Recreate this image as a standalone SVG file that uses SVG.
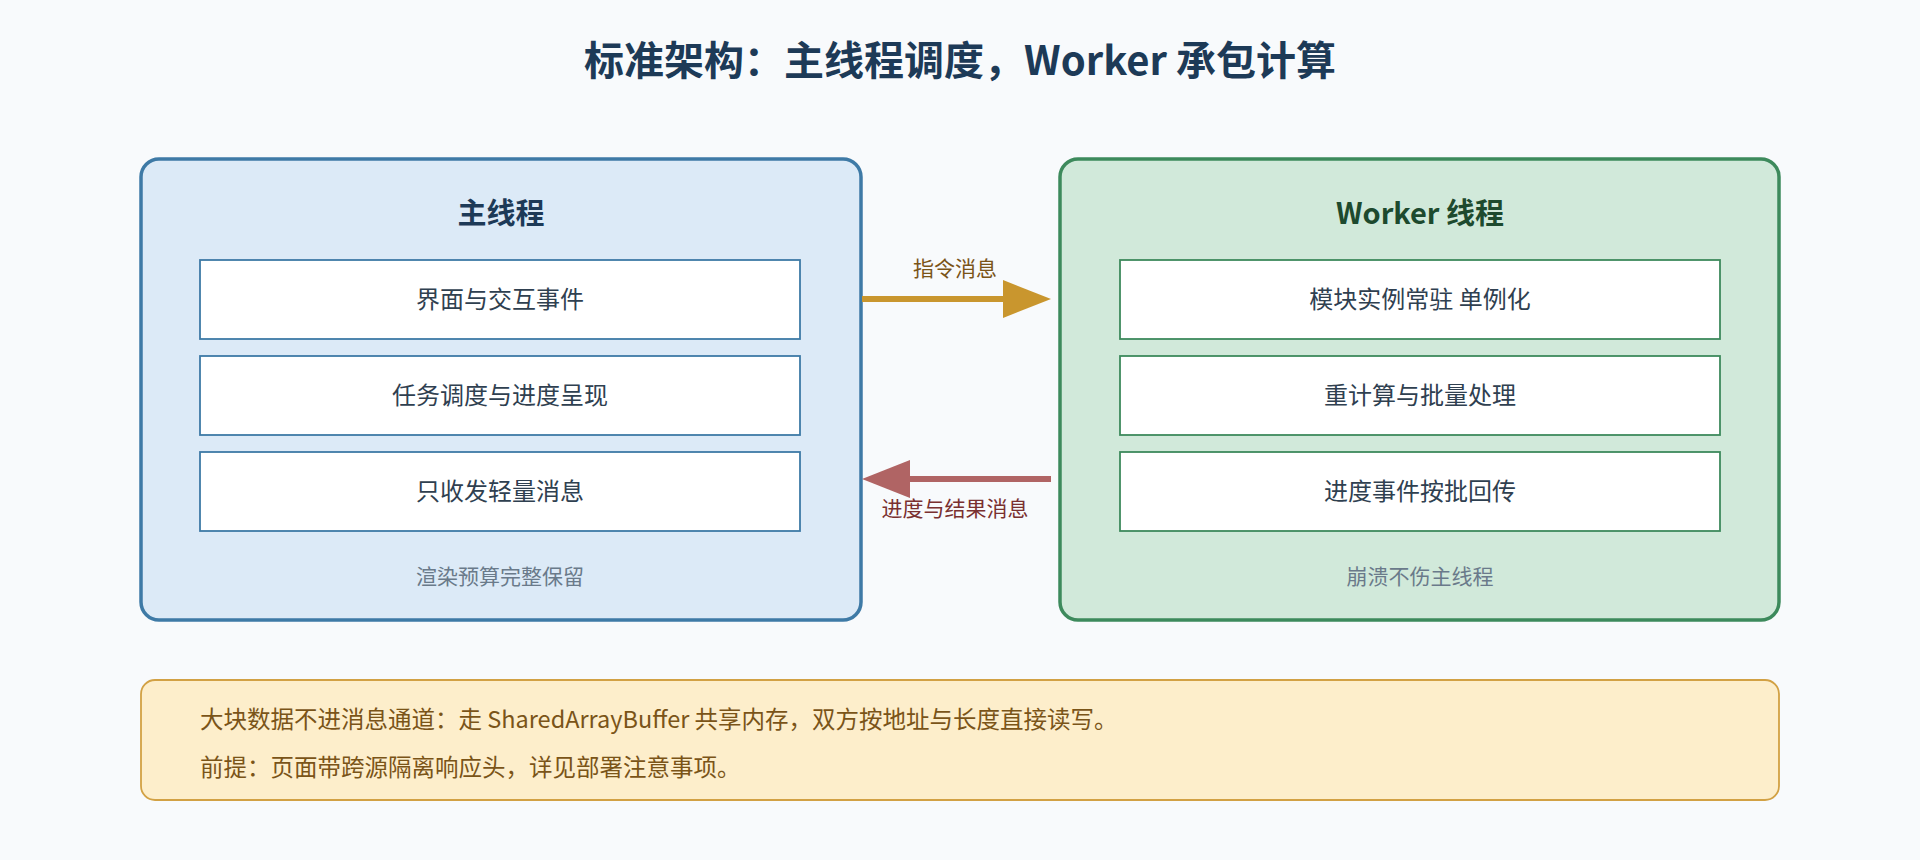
<svg xmlns="http://www.w3.org/2000/svg" width="1920" height="860" viewBox="0 0 1920 860">
<style>
text{font-family:"Noto Sans CJK SC","Liberation Sans",sans-serif}
.t{font-size:40px;font-weight:bold;fill:#1d3a57;text-anchor:middle}
.h{font-size:29px;font-weight:bold;text-anchor:middle}
.i{font-size:24px;fill:#2f4050;text-anchor:middle}
.f{font-size:21px;fill:#6a7a8a;text-anchor:middle}
.ib{fill:#fff;stroke-width:1.8}
.n{font-size:23.5px;fill:#7a5418}
</style>
<rect width="1920" height="860" fill="#f8fafc"/>
<text class="t" x="960" y="75">标准架构：主线程调度，Worker 承包计算</text>
<g id="main">
<rect x="141" y="159" width="720" height="461" rx="18" fill="#dceaf7" stroke="#3e7aa6" stroke-width="3.5"/>
<text class="h" x="501" y="224" fill="#1d3a57">主线程</text>
<rect class="ib" x="200" y="260" width="600" height="79" stroke="#3e7aa6"/><text class="i" x="500" y="308">界面与交互事件</text>
<rect class="ib" x="200" y="356" width="600" height="79" stroke="#3e7aa6"/><text class="i" x="500" y="404">任务调度与进度呈现</text>
<rect class="ib" x="200" y="452" width="600" height="79" stroke="#3e7aa6"/><text class="i" x="500" y="500">只收发轻量消息</text>
<text class="f" x="500" y="584">渲染预算完整保留</text>
</g>
<g id="worker">
<rect x="1060" y="159" width="719" height="461" rx="18" fill="#d1e9da" stroke="#3d8a5c" stroke-width="3.5"/>
<text class="h" x="1420" y="224" fill="#1d4a2e">Worker 线程</text>
<rect class="ib" x="1120" y="260" width="600" height="79" stroke="#3d8a5c"/><text class="i" x="1420" y="308">模块实例常驻 单例化</text>
<rect class="ib" x="1120" y="356" width="600" height="79" stroke="#3d8a5c"/><text class="i" x="1420" y="404">重计算与批量处理</text>
<rect class="ib" x="1120" y="452" width="600" height="79" stroke="#3d8a5c"/><text class="i" x="1420" y="500">进度事件按批回传</text>
<text class="f" x="1420" y="584">崩溃不伤主线程</text>
</g>
<g id="connectors">
<line x1="862" y1="299" x2="1005" y2="299" stroke="#c9962e" stroke-width="6"/>
<path d="M1003,280L1051,299L1003,318z" fill="#c9962e"/>
<text x="955" y="276" font-size="21" fill="#7a5418" text-anchor="middle">指令消息</text>
<line x1="1051" y1="479" x2="908" y2="479" stroke="#b06464" stroke-width="6"/>
<path d="M910,460L862,479L910,498z" fill="#b06464"/>
<text x="955" y="516" font-size="21" fill="#7a3030" text-anchor="middle">进度与结果消息</text>
</g>
<g id="note">
<rect x="141" y="680" width="1638" height="120" rx="14" fill="#fdeecb" stroke="#d2a144" stroke-width="1.8"/>
<text class="n" x="200" y="728">大块数据不进消息通道：走 SharedArrayBuffer 共享内存，双方按地址与长度直接读写。</text>
<text class="n" x="200" y="776">前提：页面带跨源隔离响应头，详见部署注意事项。</text>
</g>
</svg>
